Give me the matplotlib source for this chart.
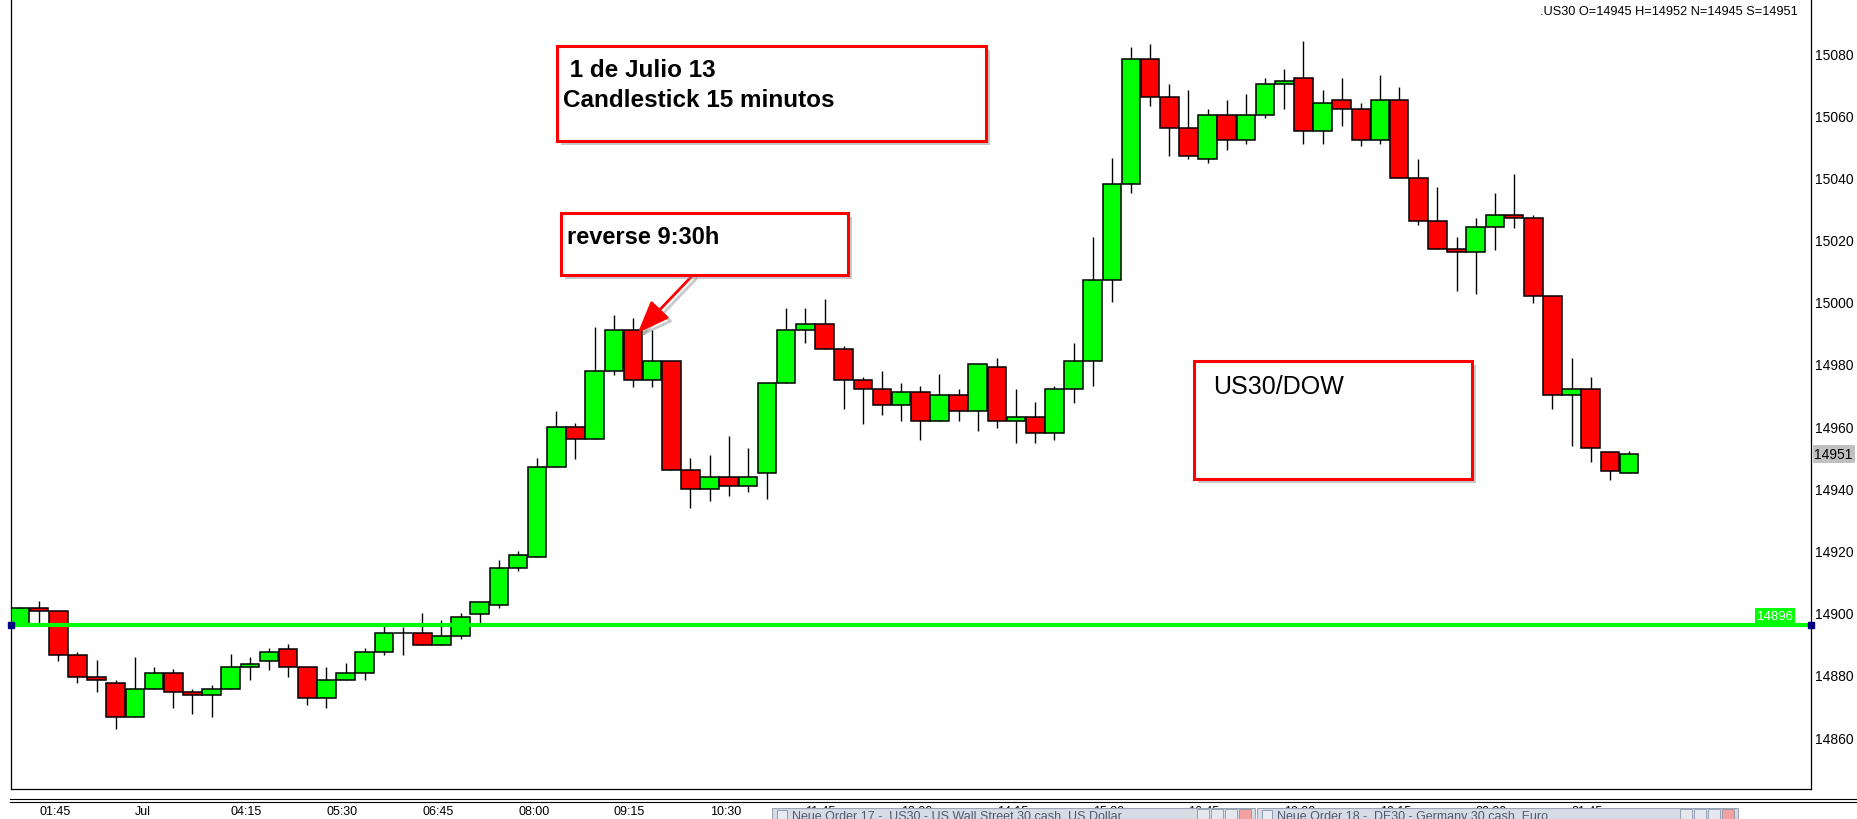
import matplotlib.pyplot as plt
import matplotlib.patheffects as pe
from matplotlib.patches import Rectangle
from matplotlib.lines import Line2D
from matplotlib.transforms import blended_transform_factory
import numpy as np

plt.rcParams['font.family'] = ['Liberation Sans', 'DejaVu Sans']

# 15 minute candles, .US30
opens = [14896.5, 14901.6, 14900.7, 14886.5, 14879.4, 14877.5, 14866.5, 14875.5, 14880.7, 14874.6,
         14873.6, 14875.5, 14882.6, 14884.6, 14888.4, 14882.6, 14872.6, 14878.4, 14880.7, 14887.5,
         14893.6, 14893.6, 14889.7, 14892.6, 14899.7, 14902.6, 14914.5, 14917.8, 14946.8, 14959.6,
         14955.8, 14977.7, 14991.0, 14974.8, 14980.9, 14945.8, 14939.7, 14943.8, 14940.6, 14944.8,
         14973.8, 14991.0, 14992.9, 14984.8, 14974.8, 14971.9, 14966.7, 14970.9, 14961.8, 14969.9,
         14964.8, 14979.0, 14961.8, 14962.8, 14957.7, 14971.9, 14980.9, 15007.1, 15037.9, 15078.1,
         15065.9, 15056.0, 15045.9, 15060.1, 15052.0, 15060.1, 15070.1, 15072.0, 15054.9, 15064.9,
         15062.0, 15052.0, 15064.9, 15039.8, 15025.9, 15016.9, 15015.9, 15024.0, 15027.9, 15026.9,
         15001.8, 14969.9, 14971.8, 14951.8, 14945.0]
highs = [14902.0, 14903.7, 14900.7, 14887.5, 14884.7, 14878.4, 14885.6, 14882.7, 14881.8, 14875.6,
         14876.6, 14886.6, 14885.6, 14888.5, 14889.8, 14882.6, 14882.7, 14883.7, 14888.5, 14896.6,
         14895.5, 14899.8, 14897.5, 14899.8, 14903.6, 14916.9, 14919.8, 14949.8, 14964.9, 14961.0,
         14992.0, 14995.9, 14994.8, 14991.0, 14980.9, 14949.8, 14950.7, 14956.8, 14953.0, 14973.8,
         14998.1, 14998.1, 15001.0, 14985.8, 14975.8, 14977.8, 14973.9, 14972.9, 14976.8, 14972.0,
         14979.9, 14982.0, 14972.0, 14967.8, 14972.9, 14986.8, 15020.9, 15046.1, 15082.1, 15083.0,
         15070.2, 15068.2, 15062.1, 15065.0, 15066.9, 15072.1, 15075.0, 15084.0, 15068.2, 15072.1,
         15063.9, 15073.1, 15069.2, 15046.0, 15037.0, 15020.8, 15027.0, 15035.0, 15041.2, 15028.0,
         15001.8, 14981.9, 14975.8, 14951.8, 14952.0]
lows = [14896.0, 14896.0, 14884.5, 14877.4, 14874.5, 14862.6, 14866.5, 14875.5, 14869.3, 14867.4,
        14866.4, 14875.5, 14878.3, 14881.7, 14879.3, 14870.3, 14869.3, 14878.4, 14878.3, 14886.4,
        14886.4, 14889.7, 14889.7, 14891.5, 14895.8, 14901.6, 14913.5, 14917.8, 14946.8, 14949.4,
        14955.8, 14976.6, 14972.7, 14972.7, 14945.8, 14933.8, 14935.8, 14937.6, 14938.7, 14936.7,
        14973.8, 14986.7, 14984.8, 14965.6, 14960.8, 14963.7, 14961.8, 14955.7, 14961.8, 14961.8,
        14958.6, 14959.5, 14954.7, 14954.7, 14955.7, 14967.6, 14972.8, 14999.8, 15034.9, 15062.9,
        15046.8, 15045.8, 15044.8, 15048.7, 15050.8, 15059.0, 15061.9, 15050.8, 15050.8, 15056.7,
        15050.0, 15050.8, 15039.8, 15024.8, 15016.9, 15003.6, 15002.6, 15016.8, 15023.9, 14999.7,
        14965.6, 14953.7, 14948.5, 14942.7, 14945.0]
closes = [14901.6, 14900.7, 14886.5, 14879.4, 14878.4, 14866.5, 14875.5, 14880.7, 14874.6, 14873.6,
          14875.5, 14882.6, 14883.6, 14887.5, 14882.6, 14872.6, 14878.4, 14880.7, 14887.5, 14893.6,
          14893.6, 14889.7, 14892.6, 14898.7, 14903.6, 14914.5, 14918.7, 14946.8, 14959.6, 14955.8,
          14977.7, 14991.0, 14974.8, 14980.9, 14945.8, 14939.7, 14943.8, 14940.6, 14943.8, 14973.8,
          14991.0, 14992.9, 14984.8, 14974.8, 14971.9, 14966.7, 14970.9, 14961.8, 14969.9, 14964.8,
          14979.9, 14961.8, 14962.8, 14957.7, 14971.9, 14980.9, 15007.1, 15037.9, 15078.1, 15065.9,
          15056.0, 15046.9, 15060.1, 15052.0, 15060.1, 15070.1, 15071.0, 15054.9, 15063.9, 15062.0,
          15052.0, 15064.9, 15039.8, 15025.9, 15016.9, 15015.9, 15024.0, 15027.9, 15026.9, 15001.8,
          14969.9, 14971.8, 14952.9, 14945.7, 14951.0]

time_labels = ["01:45", "Jul", "04:15", "05:30", "06:45", "08:00", "09:15", "10:30", "11:45",
               "13:00", "14:15", "15:30", "16:45", "18:00", "19:15", "20:30", "21:45"]
time_label_candles = [1, 6, 11, 16, 21, 26, 31, 36, 41, 46, 51, 56, 61, 66, 71, 76, 81]
price_ticks = [14860, 14880, 14900, 14920, 14940, 14960, 14980, 15000, 15020, 15040, 15060, 15080]
support_level = 14896
reversal_candle = 32

W, H = 1857, 820
fig = plt.figure(figsize=(W / 100, H / 100), dpi=100)
fig.patch.set_facecolor('white')


def fx(px):
    return px / W


def fy(py):
    return 1 - py / H


ax = fig.add_axes([fx(10.7), fy(790), fx(1811) - fx(10.7), fy(0) - fy(790)])
ax.set_xlim(-0.485, 93.5)
ax.set_ylim(14843.3, 15097.4)

o = np.array(opens)
c = np.array(closes)
x = np.arange(len(o))
cols = ['#00ff00' if cc >= oo else '#ff0000' for oo, cc in zip(o, c)]

ax.vlines(x, lows, highs, color='black', lw=1.0, zorder=2)
ax.bar(x, np.abs(c - o), bottom=np.minimum(o, c), width=0.97, color=cols,
       edgecolor='black', linewidth=1.1, zorder=3)

# horizontal level
ax.axhline(support_level, color='#00ff00', lw=3, zorder=4)
ax.plot([-0.485, 93.5], [support_level, support_level], 's', ms=4, color='#000080',
        clip_on=False, zorder=5)
ax.annotate(str(support_level), xy=(0.9905, support_level), xycoords=ax.get_yaxis_transform(),
            xytext=(0, 2.5), textcoords='offset points', ha='right', va='bottom',
            color='white', fontsize=9.5, zorder=6,
            bbox=dict(boxstyle='square,pad=0.12', fc='#00ff00', ec='none'))

# frame and axis
for s in ['left', 'right', 'bottom']:
    ax.spines[s].set_linewidth(0.9)
    ax.spines[s].set_color('black')
ax.spines['top'].set_visible(False)
ax.yaxis.tick_right()
ax.set_yticks(price_ticks)
ax.set_yticklabels([str(p) for p in price_ticks])
ax.tick_params(axis='y', length=0, pad=3, labelsize=10)
ax.set_xticks([])

ax.annotate(f"{closes[-1]:.0f}", xy=(1.0, closes[-1]), xycoords=ax.get_yaxis_transform(),
            xytext=(2.5, 0), textcoords='offset points', ha='left', va='center',
            fontsize=10, color='black', annotation_clip=False,
            bbox=dict(boxstyle='square,pad=0.12', fc='#c0c0c0', ec='none'))

# time labels under the double line
tr = blended_transform_factory(ax.transData, fig.transFigure)
for lab, i in zip(time_labels, time_label_candles):
    ax.text(i, fy(812), lab, transform=tr, ha='left', va='center', fontsize=9)

fig.add_artist(Line2D([fx(10), 1], [fy(799.5), fy(799.5)], color='black', lw=0.8))
fig.add_artist(Line2D([fx(10), 1], [fy(802.5), fy(802.5)], color='black', lw=0.8))

header = f".US30 O={opens[-1]:.0f} H={highs[-1]:.0f} N={lows[-1]:.0f} S={closes[-1]:.0f}"
fig.text(fx(1798), fy(12), header, ha='right', va='center', fontsize=9.2)


def note_box(x0, y0, x1, y1):
    r = Rectangle((fx(x0), fy(y1)), fx(x1) - fx(x0), fy(y0) - fy(y1), transform=fig.transFigure,
                  fc='white', ec='#ff0000', lw=2.2, zorder=6)
    r.set_path_effects([pe.SimplePatchShadow(offset=(3, -3), shadow_rgbFace='#888888', alpha=0.45),
                        pe.Normal()])
    fig.add_artist(r)


note_box(557, 47, 986, 142)
fig.text(fx(563), fy(77), " 1 de Julio 13", fontsize=17.5, fontweight='bold', va='baseline', zorder=7)
fig.text(fx(563), fy(107), "Candlestick 15 minutos", fontsize=17.5, fontweight='bold',
         va='baseline', zorder=7)

note_box(561, 214, 848, 276)
fig.text(fx(567), fy(244), "reverse 9:30h", fontsize=17, fontweight='bold', va='baseline', zorder=7)

note_box(1194, 362, 1472, 480)
fig.text(fx(1213), fy(394), "US30/DOW", fontsize=18, va='baseline', zorder=7)

arr = ax.annotate('', xy=(reversal_candle + 0.25, 14990), xycoords='data',
                  xytext=(fx(693), fy(276)), textcoords='figure fraction',
                  arrowprops=dict(arrowstyle='-|>,head_length=0.9,head_width=0.35', color='#ff0000',
                                  lw=2, mutation_scale=22, shrinkA=0, shrinkB=0,
                                  path_effects=[pe.SimpleLineShadow(offset=(2.5, -2.5),
                                                                    shadow_color='#888888', alpha=0.45),
                                                pe.Normal()]),
                  zorder=7, annotation_clip=False)

# terminal order windows overlapping the bottom strip
tabs = [(772, 1255, "Neue Order 17 - .US30 - US Wall Street 30 cash, US Dollar"),
        (1257, 1738, "Neue Order 18 - .DE30 - Germany 30 cash, Euro")]
for t0, t1, ttl in tabs:
    fig.add_artist(Rectangle((fx(t0), 0), fx(t1) - fx(t0), fy(809), transform=fig.transFigure,
                             fc='#d6dce6', ec='#9aa4b4', lw=0.8, zorder=8))
    fig.add_artist(Rectangle((fx(t0 + 5), fy(820)), fx(10), fy(811) - fy(820), transform=fig.transFigure,
                             fc='#e8ecf2', ec='#8090a8', lw=0.6, zorder=9))
    fig.text(fx(t0 + 20), fy(811), ttl, ha='left', va='top', fontsize=9, color='#505a6c', zorder=9)
    for k, bc in enumerate(['#e4e8ee', '#e4e8ee', '#e4e8ee', '#f2a0a0']):
        bx = t1 - 58 + k * 14
        fig.add_artist(Rectangle((fx(bx), fy(820)), fx(12), fy(810) - fy(820), transform=fig.transFigure,
                                 fc=bc, ec='#8c96a8', lw=0.6, zorder=9))

fig.savefig('out.png', dpi=100, facecolor='white')
